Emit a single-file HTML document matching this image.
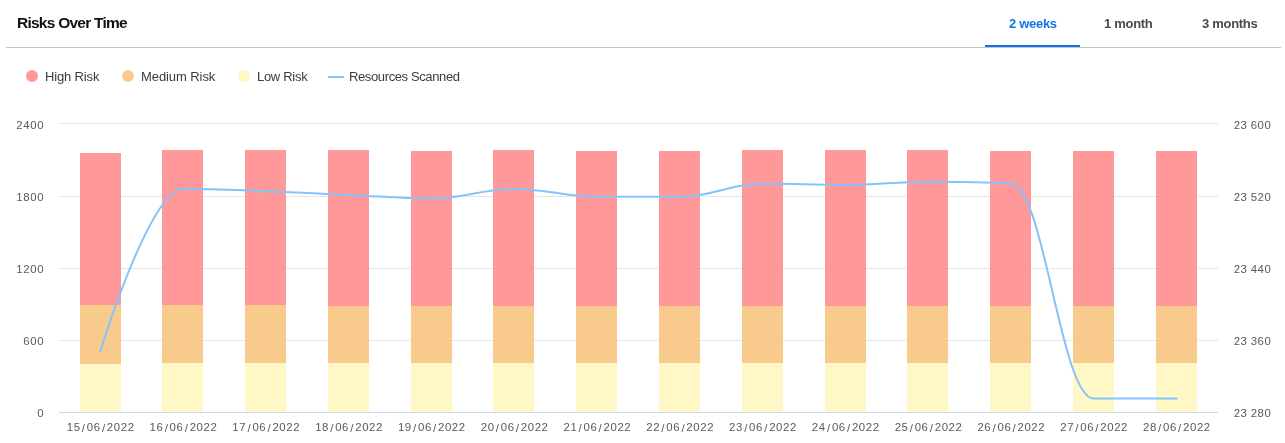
<!DOCTYPE html>
<html><head><meta charset="utf-8">
<style>
html,body{margin:0;padding:0;background:#fff;width:1285px;height:443px;overflow:hidden}
body{position:relative;font-family:"Liberation Sans",sans-serif;-webkit-font-smoothing:antialiased}
.t{position:absolute;white-space:nowrap;line-height:1;will-change:transform}
#title{left:16.7px;top:14.8px;font-size:15.5px;font-weight:bold;color:#111;letter-spacing:-0.75px}
.tab{top:16.8px;font-size:13px;font-weight:bold;color:#4a4a4a;letter-spacing:-0.3px}
#hdr{position:absolute;left:6px;top:47px;width:1275px;height:1px;background:#c6c6c6}
#ul{position:absolute;left:985px;top:45px;width:95px;height:2px;background:#1473e6}
.lg{top:70px;font-size:13px;color:#3c3c3c;letter-spacing:-0.3px}
.dot{position:absolute;width:12px;height:12px;border-radius:50%;top:70px}
svg{position:absolute;left:0;top:0;will-change:transform}
</style></head><body>
<div id="title" class="t">Risks Over Time</div>
<div class="t tab" style="left:1009.3px;color:#1473e6">2 weeks</div>
<div class="t tab" style="left:1104px">1 month</div>
<div class="t tab" style="left:1202px">3 months</div>
<div id="hdr"></div><div id="ul"></div>
<div class="dot" style="left:26px;background:#ff9999"></div>
<div class="t lg" style="left:44.6px;letter-spacing:-0.15px">High Risk</div>
<div class="dot" style="left:122px;background:#f8ca8c"></div>
<div class="t lg" style="left:141.2px;letter-spacing:-0.08px">Medium Risk</div>
<div class="dot" style="left:238px;background:#fff7c6"></div>
<div class="t lg" style="left:256.6px">Low Risk</div>
<div style="position:absolute;left:328px;top:76px;width:16px;height:2px;background:#86c3fb"></div>
<div class="t lg" style="left:348.5px;letter-spacing:-0.38px">Resources Scanned</div>
<svg width="1285" height="443" viewBox="0 0 1285 443" font-family="Liberation Sans, sans-serif" font-size="11.4" letter-spacing="0.6" fill="#5a5a5a">
<rect x="59" y="123" width="1159" height="1" fill="#e6e6e6"/><rect x="59" y="196" width="1159" height="1" fill="#e6e6e6"/><rect x="59" y="268" width="1159" height="1" fill="#e6e6e6"/><rect x="59" y="340" width="1159" height="1" fill="#e6e6e6"/>
<rect x="80" y="153" width="41" height="152" fill="#ff9999"/><rect x="80" y="305" width="41" height="59" fill="#f8ca8c"/><rect x="80" y="364" width="41" height="48" fill="#fff7c6"/><rect x="162" y="150" width="41" height="155" fill="#ff9999"/><rect x="162" y="305" width="41" height="58" fill="#f8ca8c"/><rect x="162" y="363" width="41" height="49" fill="#fff7c6"/><rect x="245" y="150" width="41" height="155" fill="#ff9999"/><rect x="245" y="305" width="41" height="58" fill="#f8ca8c"/><rect x="245" y="363" width="41" height="49" fill="#fff7c6"/><rect x="328" y="150" width="41" height="156" fill="#ff9999"/><rect x="328" y="306" width="41" height="57" fill="#f8ca8c"/><rect x="328" y="363" width="41" height="49" fill="#fff7c6"/><rect x="411" y="151" width="41" height="155" fill="#ff9999"/><rect x="411" y="306" width="41" height="57" fill="#f8ca8c"/><rect x="411" y="363" width="41" height="49" fill="#fff7c6"/><rect x="493" y="150" width="41" height="156" fill="#ff9999"/><rect x="493" y="306" width="41" height="57" fill="#f8ca8c"/><rect x="493" y="363" width="41" height="49" fill="#fff7c6"/><rect x="576" y="151" width="41" height="155" fill="#ff9999"/><rect x="576" y="306" width="41" height="57" fill="#f8ca8c"/><rect x="576" y="363" width="41" height="49" fill="#fff7c6"/><rect x="659" y="151" width="41" height="155" fill="#ff9999"/><rect x="659" y="306" width="41" height="57" fill="#f8ca8c"/><rect x="659" y="363" width="41" height="49" fill="#fff7c6"/><rect x="742" y="150" width="41" height="156" fill="#ff9999"/><rect x="742" y="306" width="41" height="57" fill="#f8ca8c"/><rect x="742" y="363" width="41" height="49" fill="#fff7c6"/><rect x="825" y="150" width="41" height="156" fill="#ff9999"/><rect x="825" y="306" width="41" height="57" fill="#f8ca8c"/><rect x="825" y="363" width="41" height="49" fill="#fff7c6"/><rect x="907" y="150" width="41" height="156" fill="#ff9999"/><rect x="907" y="306" width="41" height="57" fill="#f8ca8c"/><rect x="907" y="363" width="41" height="49" fill="#fff7c6"/><rect x="990" y="151" width="41" height="155" fill="#ff9999"/><rect x="990" y="306" width="41" height="57" fill="#f8ca8c"/><rect x="990" y="363" width="41" height="49" fill="#fff7c6"/><rect x="1073" y="151" width="41" height="155" fill="#ff9999"/><rect x="1073" y="306" width="41" height="57" fill="#f8ca8c"/><rect x="1073" y="363" width="41" height="49" fill="#fff7c6"/><rect x="1156" y="151" width="41" height="155" fill="#ff9999"/><rect x="1156" y="306" width="41" height="57" fill="#f8ca8c"/><rect x="1156" y="363" width="41" height="49" fill="#fff7c6"/>
<rect x="59" y="412" width="1159" height="1" fill="#ccd6eb"/>
<path d="M 100.39 351.00 C 100.39 351.00 150.06 188.90 183.18 188.90 C 216.29 188.90 232.85 190.00 265.96 191.20 C 299.08 192.40 315.64 193.42 348.75 194.90 C 381.86 196.38 398.42 198.60 431.54 198.60 C 464.65 198.60 481.21 188.90 514.32 188.90 C 547.44 188.90 563.99 196.80 597.11 196.80 C 630.22 196.80 646.78 196.80 679.89 196.80 C 713.01 196.80 729.56 183.60 762.68 183.60 C 795.79 183.60 812.35 184.90 845.46 184.90 C 878.58 184.90 895.14 181.70 928.25 181.70 C 961.36 181.70 977.92 181.70 1011.04 183.50 C 1044.15 185.30 1060.71 398.60 1093.82 398.60 C 1126.94 398.60 1176.61 398.60 1176.61 398.60" fill="none" stroke="#86c3fb" stroke-width="2" stroke-linejoin="round" stroke-linecap="round"/>
<text x="44.10" y="129" text-anchor="end">2400</text><text x="1233.7" y="129" text-anchor="start">23 <tspan dx="-0.7">600</tspan></text><text x="44.10" y="201" text-anchor="end">1800</text><text x="1233.7" y="201" text-anchor="start">23 <tspan dx="-0.7">520</tspan></text><text x="44.10" y="273" text-anchor="end">1200</text><text x="1233.7" y="273" text-anchor="start">23 <tspan dx="-0.7">440</tspan></text><text x="44.10" y="345" text-anchor="end">600</text><text x="1233.7" y="345" text-anchor="start">23 <tspan dx="-0.7">360</tspan></text><text x="44.10" y="417" text-anchor="end">0</text><text x="1233.7" y="417" text-anchor="start">23 <tspan dx="-0.7">280</tspan></text>
<text x="100.69" y="431" text-anchor="middle">15<tspan dx="1.2" dy="0.8">/</tspan><tspan dx="1.2" dy="-0.8">06</tspan><tspan dx="1.2" dy="0.8">/</tspan><tspan dx="1.2" dy="-0.8">2022</tspan></text><text x="183.48" y="431" text-anchor="middle">16<tspan dx="1.2" dy="0.8">/</tspan><tspan dx="1.2" dy="-0.8">06</tspan><tspan dx="1.2" dy="0.8">/</tspan><tspan dx="1.2" dy="-0.8">2022</tspan></text><text x="266.26" y="431" text-anchor="middle">17<tspan dx="1.2" dy="0.8">/</tspan><tspan dx="1.2" dy="-0.8">06</tspan><tspan dx="1.2" dy="0.8">/</tspan><tspan dx="1.2" dy="-0.8">2022</tspan></text><text x="349.05" y="431" text-anchor="middle">18<tspan dx="1.2" dy="0.8">/</tspan><tspan dx="1.2" dy="-0.8">06</tspan><tspan dx="1.2" dy="0.8">/</tspan><tspan dx="1.2" dy="-0.8">2022</tspan></text><text x="431.84" y="431" text-anchor="middle">19<tspan dx="1.2" dy="0.8">/</tspan><tspan dx="1.2" dy="-0.8">06</tspan><tspan dx="1.2" dy="0.8">/</tspan><tspan dx="1.2" dy="-0.8">2022</tspan></text><text x="514.62" y="431" text-anchor="middle">20<tspan dx="1.2" dy="0.8">/</tspan><tspan dx="1.2" dy="-0.8">06</tspan><tspan dx="1.2" dy="0.8">/</tspan><tspan dx="1.2" dy="-0.8">2022</tspan></text><text x="597.41" y="431" text-anchor="middle">21<tspan dx="1.2" dy="0.8">/</tspan><tspan dx="1.2" dy="-0.8">06</tspan><tspan dx="1.2" dy="0.8">/</tspan><tspan dx="1.2" dy="-0.8">2022</tspan></text><text x="680.19" y="431" text-anchor="middle">22<tspan dx="1.2" dy="0.8">/</tspan><tspan dx="1.2" dy="-0.8">06</tspan><tspan dx="1.2" dy="0.8">/</tspan><tspan dx="1.2" dy="-0.8">2022</tspan></text><text x="762.98" y="431" text-anchor="middle">23<tspan dx="1.2" dy="0.8">/</tspan><tspan dx="1.2" dy="-0.8">06</tspan><tspan dx="1.2" dy="0.8">/</tspan><tspan dx="1.2" dy="-0.8">2022</tspan></text><text x="845.76" y="431" text-anchor="middle">24<tspan dx="1.2" dy="0.8">/</tspan><tspan dx="1.2" dy="-0.8">06</tspan><tspan dx="1.2" dy="0.8">/</tspan><tspan dx="1.2" dy="-0.8">2022</tspan></text><text x="928.55" y="431" text-anchor="middle">25<tspan dx="1.2" dy="0.8">/</tspan><tspan dx="1.2" dy="-0.8">06</tspan><tspan dx="1.2" dy="0.8">/</tspan><tspan dx="1.2" dy="-0.8">2022</tspan></text><text x="1011.34" y="431" text-anchor="middle">26<tspan dx="1.2" dy="0.8">/</tspan><tspan dx="1.2" dy="-0.8">06</tspan><tspan dx="1.2" dy="0.8">/</tspan><tspan dx="1.2" dy="-0.8">2022</tspan></text><text x="1094.12" y="431" text-anchor="middle">27<tspan dx="1.2" dy="0.8">/</tspan><tspan dx="1.2" dy="-0.8">06</tspan><tspan dx="1.2" dy="0.8">/</tspan><tspan dx="1.2" dy="-0.8">2022</tspan></text><text x="1176.91" y="431" text-anchor="middle">28<tspan dx="1.2" dy="0.8">/</tspan><tspan dx="1.2" dy="-0.8">06</tspan><tspan dx="1.2" dy="0.8">/</tspan><tspan dx="1.2" dy="-0.8">2022</tspan></text>
</svg>
</body></html>
